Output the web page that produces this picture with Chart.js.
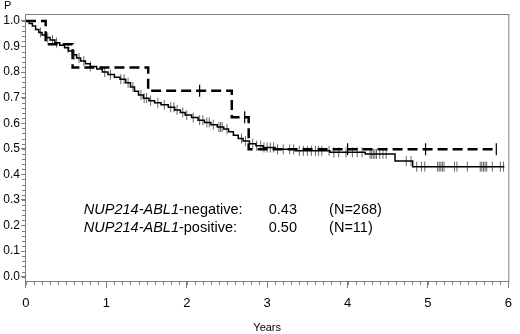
<!DOCTYPE html>
<html>
<head>
<meta charset="utf-8">
<script src="https://cdn.jsdelivr.net/npm/chart.js@4"></script>
<style>body{margin:0;background:#fff}</style>
</head>
<body>
<canvas id="kmChart" width="520" height="334"></canvas>
<script>
// NUP214-ABL1-negative (solid line), N=268
const negTimes = [0, 0.04, 0.08, 0.12, 0.16, 0.2, 0.25, 0.3, 0.36, 0.42, 0.48, 0.53, 0.58, 0.63, 0.68, 0.74, 0.8, 0.88, 0.95, 1.02, 1.1, 1.17, 1.24, 1.3, 1.35, 1.4, 1.46, 1.53, 1.6, 1.68, 1.77, 1.85, 1.92, 1.98, 2.06, 2.14, 2.22, 2.3, 2.38, 2.46, 2.52, 2.58, 2.64, 2.7, 2.78, 2.86, 2.95, 3.1, 3.35, 3.78, 4.22, 4.59, 4.81, 5.95];
const negSurv = [1.0, 0.99, 0.98, 0.966, 0.955, 0.945, 0.935, 0.925, 0.915, 0.905, 0.895, 0.882, 0.868, 0.855, 0.843, 0.832, 0.822, 0.812, 0.80, 0.79, 0.78, 0.772, 0.758, 0.742, 0.725, 0.71, 0.698, 0.688, 0.68, 0.672, 0.662, 0.652, 0.642, 0.632, 0.622, 0.612, 0.603, 0.594, 0.585, 0.577, 0.567, 0.553, 0.54, 0.53, 0.52, 0.512, 0.505, 0.498, 0.492, 0.486, 0.48, 0.452, 0.43, 0.43];
const negCensorTimes = [0.18, 0.27, 0.33, 0.38, 0.52, 0.6, 0.66, 0.72, 0.8, 0.98, 1.05, 1.18, 1.22, 1.27, 1.33, 1.43, 1.47, 1.5, 1.55, 1.64, 1.72, 1.8, 1.84, 1.88, 1.95, 2.0, 2.08, 2.16, 2.2, 2.25, 2.28, 2.33, 2.4, 2.42, 2.44, 2.5, 2.68, 2.73, 2.82, 2.87, 2.92, 2.96, 3.0, 3.04, 3.08, 3.13, 3.2, 3.28, 3.33, 3.4, 3.45, 3.5, 3.55, 3.6, 3.64, 3.68, 3.77, 3.83, 3.89, 3.98, 4.06, 4.12, 4.18, 4.28, 4.3, 4.32, 4.34, 4.36, 4.4, 4.44, 4.48, 4.73, 4.79, 4.86, 4.92, 4.96, 5.12, 5.14, 5.16, 5.18, 5.2, 5.33, 5.36, 5.49, 5.65, 5.67, 5.69, 5.71, 5.73, 5.8, 5.9, 5.94];

// NUP214-ABL1-positive (dashed line), N=11
const posTimes = [0, 0.245, 0.58, 1.52, 2.56, 2.77, 5.85];
const posSurv = [1.0, 0.909, 0.818, 0.727, 0.623, 0.498, 0.498];
const posCensorTimes = [2.16, 2.72, 4.0, 4.97, 5.85];

const xTicks = [0, 1, 2, 3, 4, 5, 6];
const yTicks = [0, 0.1, 0.2, 0.3, 0.4, 0.5, 0.6, 0.7, 0.8, 0.9, 1.0];

const summaryGenes = ['NUP214-ABL1', 'NUP214-ABL1'];
const summaryGroups = ['-negative:', '-positive:'];
const summaryEstimates = ['0.43', '0.50'];
const summaryCounts = ['(N=268)', '(N=11)'];

function survAt(times, surv, t) {
    let s = surv[0];
    for (let i = 0; i < times.length; i++) {
        if (times[i] <= t) s = surv[i];
    }
    return s;
}

const negLine = negTimes.map((t, i) => ({ x: t, y: negSurv[i] }));
const posLine = posTimes.map((t, i) => ({ x: t, y: posSurv[i] }));
const negCensor = negCensorTimes.map(t => ({ x: t, y: survAt(negTimes, negSurv, t) }));
const posCensor = posCensorTimes.map(t => ({ x: t, y: survAt(posTimes, posSurv, t) }));

const FONT = '"Liberation Sans", Arial, sans-serif';
const AXIS_GRAY = '#808080';

const extras = {
    id: 'extras',
    beforeDatasetsDraw(chart) {
        const { ctx, chartArea: a, scales: { x, y } } = chart;
        ctx.save();
        ctx.strokeStyle = AXIS_GRAY;
        ctx.lineWidth = 1;
        ctx.strokeRect(a.left + 0.5, a.top + 0.5, a.right - a.left - 1, a.bottom - a.top - 1);
        // minor ticks
        ctx.beginPath();
        for (let i = 0; i <= 60; i++) {
            const px = Math.round(x.getPixelForValue(i / 10)) + 0.5;
            ctx.moveTo(px, a.bottom);
            ctx.lineTo(px, a.bottom + 3);
        }
        for (let i = 0; i <= 50; i++) {
            const py = Math.round(y.getPixelForValue(i / 50)) + 0.5;
            ctx.moveTo(a.left, py);
            ctx.lineTo(a.left - 3, py);
        }
        ctx.stroke();
        ctx.restore();
    },
    afterDraw(chart) {
        const { ctx, scales: { x, y } } = chart;
        ctx.save();
        ctx.fillStyle = '#000';
        ctx.textBaseline = 'middle';
        ctx.font = '11px ' + FONT;
        ctx.fillText('P', 4, 6);
        ctx.textAlign = 'center';
        ctx.fillText('Years', (x.left + x.right) / 2, 328);
        ctx.textAlign = 'left';
        const rowVals = [0.26, 0.19];
        for (let i = 0; i < summaryGenes.length; i++) {
            const py = y.getPixelForValue(rowVals[i]);
            let px = x.getPixelForValue(0.72);
            ctx.font = 'italic 14.5px ' + FONT;
            ctx.fillText(summaryGenes[i], px, py);
            px += ctx.measureText(summaryGenes[i]).width;
            ctx.font = '14.5px ' + FONT;
            ctx.fillText(summaryGroups[i], px, py);
            ctx.fillText(summaryEstimates[i], x.getPixelForValue(3.02), py);
            ctx.fillText(summaryCounts[i], x.getPixelForValue(3.77), py);
        }
        ctx.restore();
    }
};

new Chart(document.getElementById('kmChart'), {
    type: 'line',
    data: {
        datasets: [
            {
                data: negLine,
                stepped: 'before',
                borderColor: '#000',
                borderWidth: 1.5,
                pointRadius: 0,
                fill: false
            },
            {
                data: posLine,
                stepped: 'before',
                borderColor: '#000',
                borderWidth: 2.5,
                borderDash: [10, 5],
                pointRadius: 0,
                fill: false
            },
            {
                data: negCensor,
                showLine: false,
                pointStyle: 'line',
                rotation: 90,
                pointRadius: 5,
                borderColor: '#666',
                borderWidth: 1
            },
            {
                data: posCensor,
                showLine: false,
                pointStyle: 'line',
                rotation: 90,
                pointRadius: 6,
                borderColor: '#000',
                borderWidth: 1.2
            }
        ]
    },
    options: {
        responsive: false,
        animation: false,
        layout: { padding: { top: 14, right: 4, left: 0, bottom: 0 } },
        plugins: { legend: { display: false }, tooltip: { enabled: false } },
        scales: {
            x: {
                type: 'linear',
                min: -0.012,
                max: 6.012,
                afterBuildTicks: s => { s.ticks = xTicks.map(v => ({ value: v })); },
                afterFit: s => { s.height = 52; },
                border: { display: false },
                grid: { drawOnChartArea: false, drawTicks: true, tickLength: 6, color: AXIS_GRAY },
                ticks: { color: '#000', font: { family: FONT, size: 13 }, padding: 8, maxRotation: 0 }
            },
            y: {
                type: 'linear',
                min: -0.021,
                max: 1.027,
                afterBuildTicks: s => { s.ticks = yTicks.map(v => ({ value: v })); },
                afterFit: s => { s.width = 25; },
                border: { display: false },
                grid: { drawOnChartArea: false, drawTicks: true, tickLength: 4, color: AXIS_GRAY },
                ticks: { color: '#000', font: { family: FONT, size: 12 }, padding: 1, callback: v => v.toFixed(1) }
            }
        }
    },
    plugins: [extras]
});
</script>
</body>
</html>
